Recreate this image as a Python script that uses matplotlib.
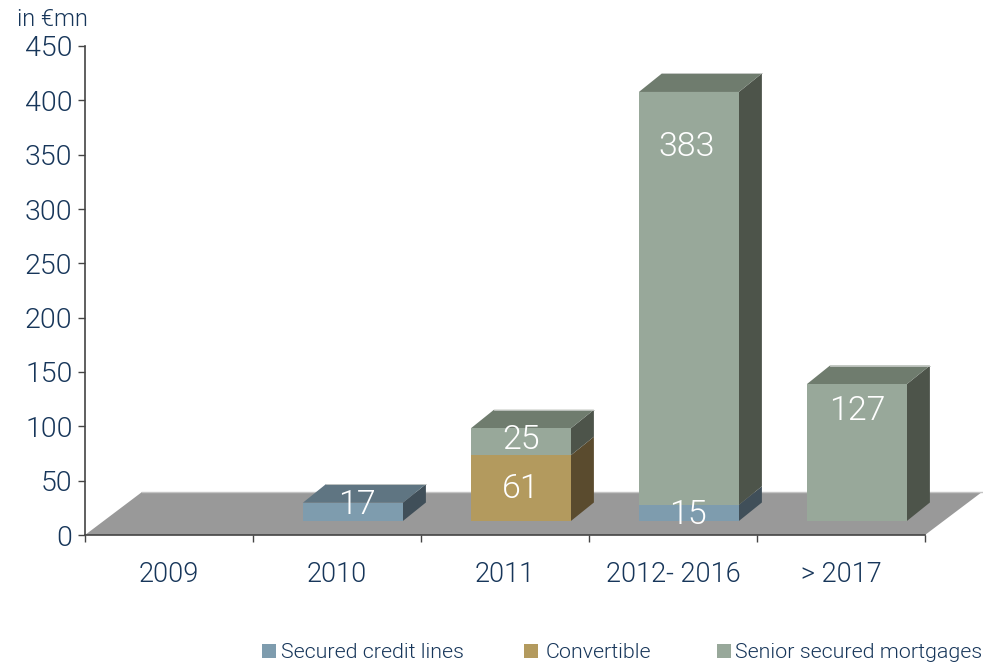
import matplotlib
matplotlib.use("Agg")
import matplotlib.pyplot as plt
from matplotlib.patches import Polygon, Rectangle

categories = ['2009', '2010', '2011', '2012- 2016', '> 2017']
y_ticks = [0, 50, 100, 150, 200, 250, 300, 350, 400, 450]

# values per category, 0 where the series is missing
credit_lines = [0, 17, 0, 15, 0]
convertible = [0, 0, 61, 0, 0]
mortgages = [0, 0, 25, 383, 127]
series_names = ['Secured credit lines', 'Convertible', 'Senior secured mortgages']

# front, top and side colour of each series
colors = [('#7e9cae', '#5f7582', '#404f59'),
          ('#b39a5e', '#8a7647', '#5a4b2e'),
          ('#98a89a', '#6f7c6e', '#4d544a')]
text_color = '#17365a'

plt.rcParams['font.family'] = ['Roboto', 'DejaVu Sans']
plt.rcParams['font.weight'] = 300

W, H = 983, 664
fig = plt.figure(figsize=(W / 100, H / 100), dpi=100)
ax = fig.add_axes([85 / W, (H - 535) / H, 840 / W, 489 / H])
ax.set_xlim(0, 5)
ax.set_ylim(0, 450)

px_x = 5 / 840    # one pixel in category units
px_y = 450 / 489  # one pixel in value units

# floor of the 3d plot
floor_dx, floor_dy = 57 * px_x, 43 * px_y
ax.add_patch(Polygon([(0, 0), (5, 0), (5 + floor_dx, floor_dy), (floor_dx, floor_dy)],
                     closed=True, fc='#999999', ec='none', clip_on=False, zorder=1))
ax.plot([floor_dx, 5 + floor_dx], [floor_dy, floor_dy], color='#c4c4c4', lw=1,
        clip_on=False, zorder=1.5)

# bars stand a bit behind the front of the floor
bar_left = 0.297
bar_width = 100 * px_x
base = 14 * px_y
depth_x, depth_y = 23 * px_x, 18.5 * px_y
front_scale = 0.992


def draw_block(x0, y0, y1, cols, with_top):
    x1 = x0 + bar_width
    ax.add_patch(Polygon([(x1, y0), (x1 + depth_x, y0 + depth_y), (x1 + depth_x, y1 + depth_y), (x1, y1)],
                         closed=True, fc=cols[2], ec='none', clip_on=False, zorder=3))
    if with_top:
        ax.add_patch(Polygon([(x0, y1), (x1, y1), (x1 + depth_x, y1 + depth_y), (x0 + depth_x, y1 + depth_y)],
                             closed=True, fc=cols[1], ec='none', clip_on=False, zorder=3))
        ax.plot([x0 + depth_x, x1 + depth_x], [y1 + depth_y, y1 + depth_y], color='#c8cbc8', lw=0.6,
                clip_on=False, zorder=3.1)
    ax.add_patch(Rectangle((x0, y0), bar_width, y1 - y0, fc=cols[0], ec='none', clip_on=False, zorder=4))


stack = [credit_lines, convertible, mortgages]
for i in range(len(categories)):
    x0 = i + bar_left
    bottom = 0
    top_series = -1
    for s in range(3):
        if stack[s][i] > 0:
            top_series = s
    for s in range(3):
        v = stack[s][i]
        if v > 0:
            draw_block(x0, base + bottom * front_scale, base + (bottom + v) * front_scale, colors[s], s == top_series)
            bottom += v

# value labels: category position, height, text
label_x = [1.62, 2.595, 2.595, 3.583, 4.60]
label_y = [27.5, 42, 87, 357.5, 114]
label_txt = [credit_lines[1], convertible[2], mortgages[2], mortgages[3], mortgages[4]]
for lx, ly, t in zip(label_x, label_y, label_txt):
    ax.text(lx, ly, str(t), color='white', fontsize=24.5, ha='center', va='center', zorder=6)
ax.text(3.59, 18, str(credit_lines[3]), color='white', fontsize=24.5, ha='center', va='center', zorder=6)

# axes
for side in ['top', 'right']:
    ax.spines[side].set_visible(False)
for side in ['left', 'bottom']:
    ax.spines[side].set_color('#444444')
    ax.spines[side].set_linewidth(1.2)
    ax.spines[side].set_zorder(2)
ax.set_yticks(y_ticks)
ax.set_yticklabels([str(t) for t in y_ticks], fontsize=20.5, color=text_color)
ax.set_xticks(range(6))
ax.set_xticklabels([])
ax.set_xticks([i + 0.5 for i in range(5)], minor=True)
ax.set_xticklabels(categories, minor=True, fontsize=19.5, color=text_color)
ax.tick_params(axis='x', which='major', length=5, width=1, color='#444444')
ax.tick_params(axis='x', which='minor', length=0, pad=19)
ax.tick_params(axis='y', length=5, width=1, color='#444444', pad=4)

fig.text(17 / W, 1 - 20 / H, 'in €mn', color=text_color, fontsize=17, ha='left', va='center')

# legend
swatch_x = [262, 524, 717]
text_x = [281, 546, 735]
for s in range(3):
    fig.add_artist(Rectangle((swatch_x[s] / W, 1 - 658 / H), 14 / W, 14 / H, fc=colors[s][0], ec='none',
                             transform=fig.transFigure))
    fig.text(text_x[s] / W, 1 - 652 / H, series_names[s], color=text_color, fontsize=15.4, ha='left', va='center')

plt.savefig('out.png', dpi=100)
